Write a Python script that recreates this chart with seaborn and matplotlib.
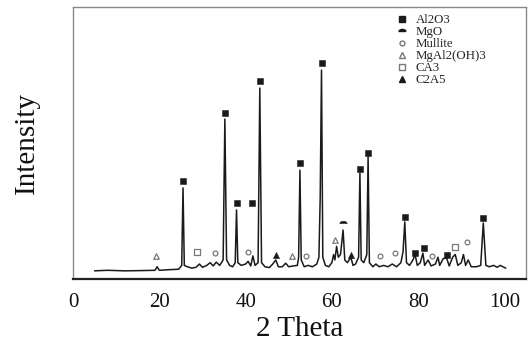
import numpy as np
import pandas as pd
import matplotlib
matplotlib.use("Agg")
import matplotlib.pyplot as plt
from matplotlib.lines import Line2D
from matplotlib.path import Path
import seaborn as sns

# ---- XRD trace (2 theta, intensity in arbitrary units) ----
two_theta = [5.0, 8.0, 12.0, 16.0, 19.0, 19.5, 20.0, 22.0, 24.5, 25.2, 25.5, 25.8,
             26.5, 27.5, 28.5, 29.3, 30.0, 31.0, 31.8, 32.5, 33.2, 34.0, 34.8, 35.2,
             35.6, 36.3, 37.0, 37.6, 37.9, 38.2, 39.0, 40.0, 40.6, 41.2, 41.7, 42.2,
             42.9, 43.3, 43.7, 44.5, 45.5, 46.3, 47.0, 47.6, 48.5, 49.3, 50.0, 51.0,
             52.0, 52.3, 52.6, 52.9, 53.6, 54.5, 55.5, 56.5, 57.0, 57.3, 57.6, 57.9,
             58.5, 59.3, 60.0, 60.4, 60.7, 61.1, 61.5, 62.0, 62.6, 63.0, 63.6, 64.4,
             64.9, 65.5, 66.2, 66.5, 66.8, 67.4, 68.1, 68.4, 68.7, 69.5, 70.2, 71.0,
             72.0, 73.0, 74.0, 75.0, 76.0, 76.5, 76.9, 77.3, 78.0, 78.8, 79.3, 79.8,
             80.5, 81.1, 81.5, 82.3, 83.0, 84.0, 84.6, 85.0, 85.8, 86.6, 87.2, 88.0,
             88.6, 89.2, 90.0, 90.5, 91.0, 91.6, 92.3, 93.5, 94.5, 95.1, 95.7, 96.5,
             97.5, 98.3, 99.0, 100.3]
intensity = [3.0, 3.2, 3.0, 3.1, 3.2, 4.5, 3.2, 3.4, 3.6, 5.0, 33.5, 5.0,
             4.5, 4.0, 4.3, 5.5, 4.3, 5.0, 6.0, 4.8, 6.2, 5.0, 7.0, 58.8,
             7.0, 5.0, 4.5, 6.0, 25.4, 6.0, 5.0, 5.5, 6.5, 4.8, 8.5, 5.0,
             6.0, 70.2, 6.0, 4.5, 4.2, 5.5, 7.0, 4.5, 4.5, 5.8, 4.5, 4.8,
             5.0, 8.0, 40.0, 7.0, 4.5, 5.0, 4.5, 5.5, 8.0, 30.0, 76.8, 8.0,
             5.0, 4.5, 6.0, 9.0, 7.0, 12.0, 8.0, 9.0, 18.0, 7.0, 6.0, 8.0,
             5.0, 5.5, 8.0, 39.0, 7.0, 6.0, 9.0, 44.9, 6.0, 4.5, 5.5, 4.5,
             5.0, 4.5, 5.5, 4.5, 6.0, 10.0, 21.0, 6.0, 5.0, 7.0, 9.0, 5.0,
             6.0, 9.5, 5.0, 7.0, 4.8, 5.5, 8.0, 5.0, 7.5, 7.7, 4.8, 8.0,
             9.0, 5.0, 6.0, 9.0, 5.0, 7.0, 4.5, 4.5, 5.0, 20.6, 5.0, 4.5,
             5.0, 4.3, 5.0, 4.0]

# ---- phase markers (2 theta, label height) ----
al2o3_x = [25.5, 35.2, 37.9, 41.6, 43.3, 52.6, 57.6, 66.5, 68.4, 76.9, 79.3, 81.3, 86.6, 95.1]
al2o3_y = [36.0, 61.1, 28.1, 28.1, 72.8, 42.6, 79.5, 40.4, 46.3, 22.8, 9.6, 11.4, 8.8, 22.4]
mgo_x = [62.6]
mgo_y = [20.6]
mullite_x = [32.9, 40.5, 54.1, 71.2, 74.6, 83.2, 91.4]
mullite_y = [9.6, 10.0, 8.5, 8.5, 9.6, 8.5, 13.7]
mgal_x = [19.3, 50.7, 60.7]
mgal_y = [8.5, 8.5, 14.3]
ca3_x = [28.7, 88.6]
ca3_y = [10.0, 11.9]
c2a5_x = [47.0, 64.4]
c2a5_y = [8.8, 8.8]

phase_names = ["Al2O3", "MgO", "Mullite", "MgAl2(OH)3", "CA3", "C2A5"]
x_ticks = [0, 20, 40, 60, 80, 100]

sns.set_style("white")
plt.rcParams["font.family"] = ["Liberation Serif", "DejaVu Serif"]

fig = plt.figure(figsize=(5.32, 3.41), dpi=100)
ax = fig.add_axes([73 / 532, 1 - 279 / 341, (526 - 73) / 532, (279 - 7) / 341])

trace = pd.DataFrame({"two_theta": two_theta, "intensity": intensity})
sns.lineplot(data=trace, x="two_theta", y="intensity", ax=ax, color="#1a1a1a",
             linewidth=1.1, estimator=None, sort=False)

# half-ellipse marker for MgO
theta = np.linspace(0, np.pi, 20)
mgo_marker = Path(list(zip(np.cos(theta), 0.6 * np.sin(theta))) + [(-1, 0), (1, 0)])

specs = [
    (al2o3_x, al2o3_y, dict(marker="s", s=22, color="#1a1a1a", edgecolor="#1a1a1a")),
    (mgo_x, mgo_y, dict(marker=mgo_marker, s=28, color="#1a1a1a", edgecolor="#1a1a1a")),
    (mullite_x, mullite_y, dict(marker="o", s=12, color="white", edgecolor="#777777", linewidth=0.9)),
    (mgal_x, mgal_y, dict(marker="^", s=16, color="white", edgecolor="#777777", linewidth=0.9)),
    (ca3_x, ca3_y, dict(marker="s", s=18, color="white", edgecolor="#777777", linewidth=0.9)),
    (c2a5_x, c2a5_y, dict(marker="^", s=20, color="#1a1a1a", edgecolor="#1a1a1a")),
]
for xs, ys, kw in specs:
    sns.scatterplot(x=xs, y=ys, ax=ax, zorder=3, **kw)

ax.set_xlim(0, 105)
ax.set_ylim(0, 100)
ax.set_xticks(x_ticks)
ax.set_xticklabels([str(t) for t in x_ticks], fontsize=15)
ax.set_yticks([])
ax.tick_params(axis="x", direction="inout", length=4, width=0.8, pad=8, colors="#222222")
ax.tick_params(axis="x", labelcolor="#111111")
ax.set_xlabel("2 Theta", fontsize=21, labelpad=3, color="#111111")
ax.set_ylabel("Intensity", fontsize=21, labelpad=24, color="#111111")

for side in ["left", "top", "right"]:
    ax.spines[side].set_color("#8a8a8a")
    ax.spines[side].set_linewidth(1.0)
ax.spines["bottom"].set_color("#222222")
ax.spines["bottom"].set_linewidth(1.6)

handles = [
    Line2D([], [], linestyle="", marker="s", markersize=4.5, color="#1a1a1a"),
    Line2D([], [], linestyle="", marker=mgo_marker, markersize=5, color="#1a1a1a"),
    Line2D([], [], linestyle="", marker="o", markersize=3.5, markerfacecolor="white",
           markeredgecolor="#777777"),
    Line2D([], [], linestyle="", marker="^", markersize=4, markerfacecolor="white",
           markeredgecolor="#777777"),
    Line2D([], [], linestyle="", marker="s", markersize=4, markerfacecolor="white",
           markeredgecolor="#777777"),
    Line2D([], [], linestyle="", marker="^", markersize=4.5, color="#1a1a1a"),
]
fig.legend(handles, phase_names, loc="upper left", bbox_to_anchor=(387 / 532, 1 - 5 / 341),
           frameon=False, fontsize=9.3, handlelength=1.0, handletextpad=0.5,
           labelspacing=0.0, borderpad=0.2)

fig.savefig("out.png", dpi=100, facecolor="white")
